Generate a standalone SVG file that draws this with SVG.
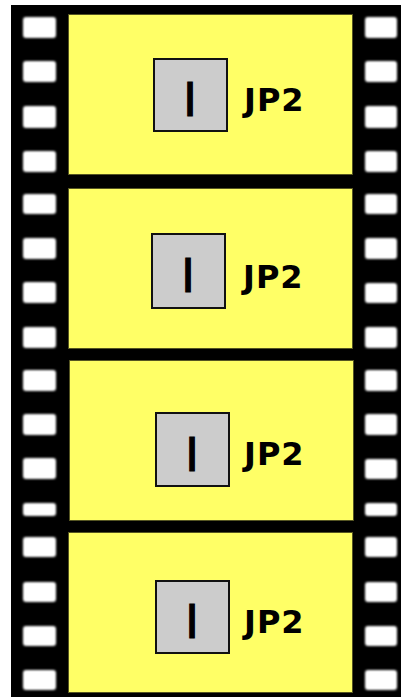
<svg xmlns="http://www.w3.org/2000/svg" width="401" height="697" viewBox="0 0 401 697">
  <style>
    .hole { fill: #ffffff; }
    .frame { fill: #ffff66; stroke: #555522; stroke-width: 1; }
    .box { fill: #cccccc; stroke: #111111; stroke-width: 2; }
    .glyph { font-family: "DejaVu Sans", sans-serif; font-size: 46px; fill: #000000; stroke: #000000; stroke-width: 1.2; text-anchor: middle; }
    .label { font-family: "DejaVu Sans", sans-serif; font-weight: bold; font-size: 32px; letter-spacing: 1px; fill: #000000; }
  </style>
  <defs>
    <filter id="soft" x="-20%" y="-20%" width="140%" height="140%">
      <feGaussianBlur stdDeviation="0.8"/>
    </filter>
  </defs>

  <!-- film strip base -->
  <rect x="11" y="5" width="390" height="692" fill="#000000"/>

  <!-- sprocket holes -->
  <g id="sprockets" filter="url(#soft)">
    <g id="sprockets-left">
      <rect class="hole" x="23" y="17" width="33" height="21" rx="3"/>
      <rect class="hole" x="23" y="61" width="33" height="21" rx="3"/>
      <rect class="hole" x="23" y="106" width="33" height="22" rx="3"/>
      <rect class="hole" x="23" y="151" width="33" height="21" rx="3"/>
      <rect class="hole" x="23" y="194" width="33" height="20" rx="3"/>
      <rect class="hole" x="23" y="238" width="33" height="21" rx="3"/>
      <rect class="hole" x="23" y="282" width="33" height="21" rx="3"/>
      <rect class="hole" x="23" y="327" width="33" height="21" rx="3"/>
      <rect class="hole" x="23" y="370" width="33" height="21" rx="3"/>
      <rect class="hole" x="23" y="414" width="33" height="21" rx="3"/>
      <rect class="hole" x="23" y="458" width="33" height="21" rx="3"/>
      <rect class="hole" x="23" y="503" width="33" height="13" rx="3"/>
      <rect class="hole" x="23" y="537" width="33" height="20" rx="3"/>
      <rect class="hole" x="23" y="582" width="33" height="20" rx="3"/>
      <rect class="hole" x="23" y="626" width="33" height="20" rx="3"/>
      <rect class="hole" x="23" y="670" width="33" height="20" rx="3"/>
    </g>
    <g id="sprockets-right">
      <rect class="hole" x="365" y="17" width="32" height="21" rx="3"/>
      <rect class="hole" x="365" y="61" width="32" height="21" rx="3"/>
      <rect class="hole" x="365" y="106" width="32" height="22" rx="3"/>
      <rect class="hole" x="365" y="151" width="32" height="21" rx="3"/>
      <rect class="hole" x="365" y="194" width="32" height="20" rx="3"/>
      <rect class="hole" x="365" y="238" width="32" height="21" rx="3"/>
      <rect class="hole" x="365" y="283" width="32" height="20" rx="3"/>
      <rect class="hole" x="365" y="327" width="32" height="21" rx="3"/>
      <rect class="hole" x="365" y="370" width="32" height="21" rx="3"/>
      <rect class="hole" x="365" y="414" width="32" height="21" rx="3"/>
      <rect class="hole" x="365" y="459" width="32" height="20" rx="3"/>
      <rect class="hole" x="365" y="503" width="32" height="13" rx="3"/>
      <rect class="hole" x="365" y="537" width="32" height="20" rx="3"/>
      <rect class="hole" x="365" y="582" width="32" height="20" rx="3"/>
      <rect class="hole" x="365" y="626" width="32" height="20" rx="3"/>
      <rect class="hole" x="365" y="670" width="32" height="20" rx="3"/>
    </g>
  </g>

  <!-- frames -->
  <g id="frame-1">
    <rect class="frame" x="68.5" y="14.5" width="284" height="160"/>
    <rect class="box" x="154" y="59" width="73" height="72"/>
    <text class="glyph" x="190" y="116">I</text>
    <text class="label" x="244" y="111">JP2</text>
  </g>
  <g id="frame-2">
    <rect class="frame" x="68.5" y="188.5" width="284" height="160"/>
    <rect class="box" x="152" y="234" width="73" height="74"/>
    <text class="glyph" x="188" y="292">I</text>
    <text class="label" x="243" y="288">JP2</text>
  </g>
  <g id="frame-3">
    <rect class="frame" x="69.5" y="360.5" width="284" height="160"/>
    <rect class="box" x="156" y="413" width="73" height="73"/>
    <text class="glyph" x="192" y="471">I</text>
    <text class="label" x="244" y="465">JP2</text>
  </g>
  <g id="frame-4">
    <rect class="frame" x="68.5" y="532.5" width="284" height="160"/>
    <rect class="box" x="156" y="581" width="73" height="72"/>
    <text class="glyph" x="192" y="638">I</text>
    <text class="label" x="244" y="633">JP2</text>
  </g>

  <g id="connectors"/>
</svg>
